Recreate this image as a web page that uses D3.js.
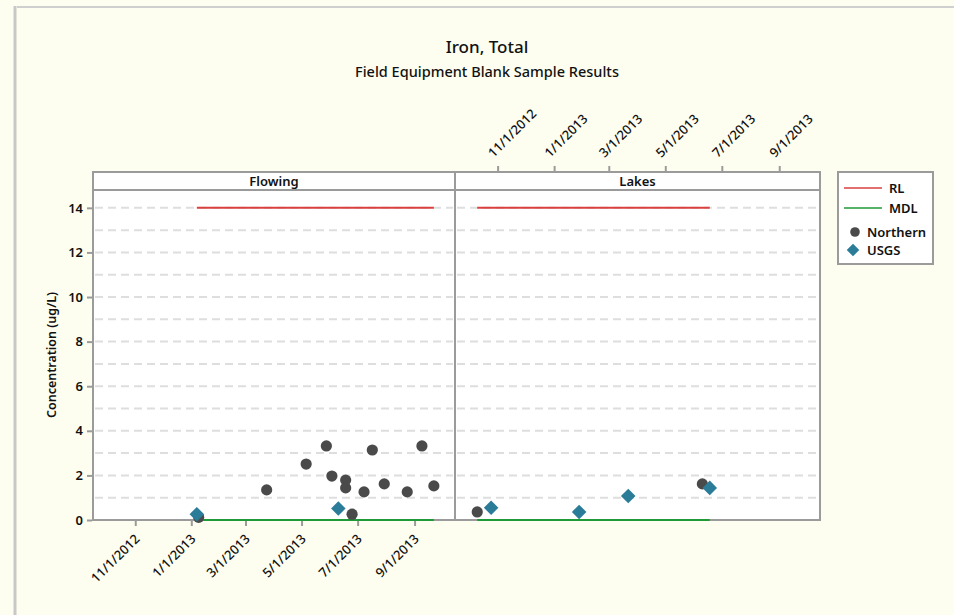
<!DOCTYPE html>
<html>
<head>
<meta charset="utf-8">
<script src="https://cdn.jsdelivr.net/npm/d3@7"></script>
<style>
  html, body { margin: 0; padding: 0; background: #fefef0; }
  svg { display: block; font-family: "Noto Sans", "Open Sans", sans-serif; }
</style>
</head>
<body>
<svg id="chart" width="954" height="615"></svg>
<script>
// Iron, Total — field equipment blank results by sampling program
const panels = ["Flowing", "Lakes"];

const flowingNorthernDates = ["2013-01-09", "2013-03-24", "2013-05-06", "2013-05-28", "2013-06-03", "2013-06-18", "2013-06-18", "2013-06-25", "2013-07-08", "2013-07-17", "2013-07-30", "2013-08-24", "2013-09-09", "2013-09-22"];
const flowingNorthernValues = [0.12, 1.35, 2.51, 3.32, 1.97, 1.79, 1.44, 0.26, 1.26, 3.14, 1.62, 1.26, 3.32, 1.53];
const flowingUsgsDates = ["2013-01-07", "2013-06-10"];
const flowingUsgsValues = [0.26, 0.52];

const lakesNorthernDates = ["2012-10-10", "2013-06-10"];
const lakesNorthernValues = [0.36, 1.62];
const lakesUsgsDates = ["2012-10-25", "2013-01-28", "2013-03-22", "2013-06-18"];
const lakesUsgsValues = [0.55, 0.36, 1.08, 1.44];

// reporting limit / method detection limit, spanning each program's sampling period
const rlValue = 14;
const mdlValue = 0;
const limitSpans = { Flowing: ["2013-01-07", "2013-09-22"], Lakes: ["2012-10-10", "2013-06-18"] };

const dateTicks = ["2012-11-01", "2013-01-01", "2013-03-01", "2013-05-01", "2013-07-01", "2013-09-01"];
const yTicks = [0, 2, 4, 6, 8, 10, 12, 14];
const gridValues = d3.range(1, 15);

const parse = d3.utcParse("%Y-%m-%d");
const fmt = d3.utcFormat("%-m/%-d/%Y");

const C = { northern: "#4a4a4a", usgs: "#2a7c98", rl: "#d9413f", mdl: "#1e9a37", frame: "#9b9b9b", grid: "#dedede" };

const svg = d3.select("#chart");

// outer frame
svg.append("rect").attr("x", 0).attr("y", 0).attr("width", 954).attr("height", 615).attr("fill", "#fefef0");
svg.append("line").attr("x1", 15).attr("x2", 15).attr("y1", 6).attr("y2", 615).attr("stroke", "#c8c8c8").attr("stroke-width", 3);
svg.append("line").attr("x1", 17).attr("x2", 954).attr("y1", 7).attr("y2", 7).attr("stroke", "#cfcfcf").attr("stroke-width", 2);

// titles
svg.append("text").attr("x", 487).attr("y", 53).attr("text-anchor", "middle")
  .attr("font-size", 17).attr("font-weight", 500).attr("fill", "#111").text("Iron, Total");
svg.append("text").attr("x", 487).attr("y", 77).attr("text-anchor", "middle")
  .attr("font-size", 14.5).attr("font-weight", 500).attr("fill", "#111").text("Field Equipment Blank Sample Results");

const plotTop = 190, plotBottom = 520, headerTop = 172;
const y = d3.scaleLinear().domain([0, 14.8]).range([plotBottom, plotTop]);
const xDomain = [parse("2012-09-16"), parse("2013-10-15")];
const xScales = {
  Flowing: d3.scaleUtc().domain(xDomain).range([93, 455]),
  Lakes: d3.scaleUtc().domain(xDomain).range([455, 820])
};

const series = {
  Flowing: { northern: d3.zip(flowingNorthernDates, flowingNorthernValues), usgs: d3.zip(flowingUsgsDates, flowingUsgsValues) },
  Lakes: { northern: d3.zip(lakesNorthernDates, lakesNorthernValues), usgs: d3.zip(lakesUsgsDates, lakesUsgsValues) }
};

panels.forEach(name => {
  const x = xScales[name];
  const [x0, x1] = x.range();
  const g = svg.append("g");

  g.append("rect").attr("x", x0).attr("y", plotTop).attr("width", x1 - x0).attr("height", plotBottom - plotTop).attr("fill", "#fff");
  g.append("rect").attr("x", x0).attr("y", headerTop).attr("width", x1 - x0).attr("height", plotTop - headerTop).attr("fill", "#fff");

  // dashed reference grid
  g.selectAll("line.grid").data(gridValues).join("line")
    .attr("x1", x0 + 2).attr("x2", x1 - 2)
    .attr("y1", d => y(d)).attr("y2", d => y(d))
    .attr("stroke", C.grid).attr("stroke-width", 2).attr("stroke-dasharray", "8,5");

  // RL line
  const span = limitSpans[name].map(parse);
  g.append("line").attr("x1", x(span[0])).attr("x2", x(span[1]))
    .attr("y1", y(rlValue)).attr("y2", y(rlValue)).attr("stroke", C.rl).attr("stroke-width", 2);

  // borders
  g.append("rect").attr("x", x0).attr("y", headerTop).attr("width", x1 - x0).attr("height", plotBottom - headerTop)
    .attr("fill", "none").attr("stroke", C.frame).attr("stroke-width", 2);
  g.append("line").attr("x1", x0).attr("x2", x1).attr("y1", plotTop).attr("y2", plotTop)
    .attr("stroke", C.frame).attr("stroke-width", 2);
  g.append("text").attr("x", (x0 + x1) / 2).attr("y", plotTop - 4).attr("text-anchor", "middle")
    .attr("font-size", 13).attr("font-weight", 600).attr("fill", "#111").text(name);

  // MDL line on the zero baseline
  g.append("line").attr("x1", x(span[0])).attr("x2", x(span[1]))
    .attr("y1", y(mdlValue)).attr("y2", y(mdlValue)).attr("stroke", C.mdl).attr("stroke-width", 2);

  // Northern samples
  g.selectAll("circle.northern").data(series[name].northern).join("circle")
    .attr("cx", d => x(parse(d[0]))).attr("cy", d => y(d[1])).attr("r", 5.6).attr("fill", C.northern);

  // USGS samples
  const diamond = d3.symbol().type(d3.symbolDiamond2).size(135);
  g.selectAll("path.usgs").data(series[name].usgs).join("path")
    .attr("d", diamond)
    .attr("transform", d => `translate(${x(parse(d[0]))},${y(d[1])})`)
    .attr("fill", C.usgs);
});

// axes
function styleAxis(sel) {
  sel.select(".domain").remove();
  sel.selectAll(".tick line").attr("stroke", C.frame).attr("stroke-width", 2);
  sel.selectAll(".tick text").attr("fill", "#111").attr("font-size", 13).attr("font-weight", 500)
    .attr("font-family", "\"Noto Sans\", sans-serif");
}

const tickDates = dateTicks.map(parse);

const xBottom = svg.append("g").attr("transform", `translate(0,${plotBottom + 1})`)
  .call(d3.axisBottom(xScales.Flowing).tickValues(tickDates).tickFormat(fmt).tickSize(5).tickSizeOuter(0));
styleAxis(xBottom);
xBottom.selectAll(".tick text").attr("text-anchor", "end").attr("dy", 0)
  .attr("transform", "translate(-1,13) rotate(-45)");

const xTop = svg.append("g").attr("transform", `translate(0,${headerTop - 1})`)
  .call(d3.axisTop(xScales.Lakes).tickValues(tickDates).tickFormat(fmt).tickSize(5).tickSizeOuter(0));
styleAxis(xTop);
xTop.selectAll(".tick text").attr("text-anchor", "start").attr("dy", 0)
  .attr("transform", "translate(1,-7) rotate(-45)");

const yAxis = svg.append("g").attr("transform", "translate(92,0)")
  .call(d3.axisLeft(y).tickValues(yTicks).tickSize(5).tickSizeOuter(0));
styleAxis(yAxis);
yAxis.selectAll(".tick text").attr("font-weight", 600).attr("dx", -1);

svg.append("text").attr("transform", `translate(56,${(plotTop + plotBottom) / 2}) rotate(-90)`)
  .attr("text-anchor", "middle").attr("font-size", 12.5).attr("font-weight", 600).attr("fill", "#111")
  .text("Concentration (ug/L)");

// legend
const lg = svg.append("g");
lg.append("rect").attr("x", 838).attr("y", 172).attr("width", 95).attr("height", 92)
  .attr("fill", "#fff").attr("stroke", C.frame).attr("stroke-width", 2);
const legendItems = [
  { label: "RL", kind: "line", color: C.rl, y: 188 },
  { label: "MDL", kind: "line", color: C.mdl, y: 208 },
  { label: "Northern", kind: "circle", color: C.northern, y: 232 },
  { label: "USGS", kind: "diamond", color: C.usgs, y: 250 }
];
legendItems.forEach(it => {
  if (it.kind === "line") {
    lg.append("line").attr("x1", 844).attr("x2", 882).attr("y1", it.y).attr("y2", it.y)
      .attr("stroke", it.color).attr("stroke-width", 1.5);
    lg.append("text").attr("x", 889).attr("y", it.y + 4.5).attr("font-size", 13).attr("font-weight", 600).attr("fill", "#111").text(it.label);
  } else {
    if (it.kind === "circle") {
      lg.append("circle").attr("cx", 855).attr("cy", it.y).attr("r", 4.8).attr("fill", it.color);
    } else {
      lg.append("path").attr("d", d3.symbol().type(d3.symbolDiamond2).size(100))
        .attr("transform", `translate(853,${it.y})`).attr("fill", it.color);
    }
    lg.append("text").attr("x", 867).attr("y", it.y + 4.5).attr("font-size", 13).attr("font-weight", 600).attr("fill", "#111").text(it.label);
  }
});
</script>
</body>
</html>
